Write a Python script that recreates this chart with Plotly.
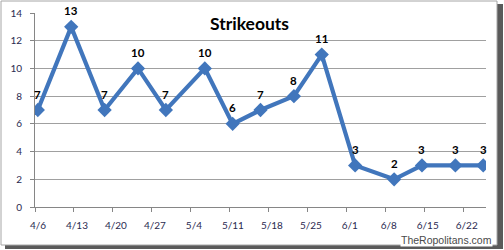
import plotly.graph_objects as go
import pandas as pd

# ---- data ----
game_dates = ["2008-04-06", "2008-04-12", "2008-04-18", "2008-04-24", "2008-04-29",
              "2008-05-06", "2008-05-11", "2008-05-16", "2008-05-22", "2008-05-27",
              "2008-06-02", "2008-06-09", "2008-06-14", "2008-06-20", "2008-06-25"]
strikeouts = [7, 13, 7, 10, 7, 10, 6, 7, 8, 11, 3, 2, 3, 3, 3]
axis_start = "2008-04-06"
axis_end = "2008-06-26"
title_text = "Strikeouts"
watermark = "TheRopolitans.com"

W, H = 504, 250
L, R, T, B = 35, 18, 13, 43
pw, ph = W - L - R, H - T - B

# Excel date axis: points sit in the middle of their day
xs = pd.to_datetime(game_dates) + pd.Timedelta(hours=12)

LINE = "#4176BC"
FONT = "Lato"

fig = go.Figure()
fig.add_trace(go.Scatter(
    x=xs, y=strikeouts, mode="lines+markers",
    line=dict(color=LINE, width=4.2),
    marker=dict(symbol="diamond", size=11, color=LINE),
    hoverinfo="skip", showlegend=False,
))

annotations = []
for x, v in zip(xs, strikeouts):
    annotations.append(dict(x=x, y=v, xref="x", yref="y", text=f"<b>{v}</b>",
                            showarrow=False, yshift=16,
                            font=dict(family=FONT, size=11.5, color="#000000")))

annotations.append(dict(x=0.475, y=1, xref="paper", yref="paper", xanchor="center",
                        yanchor="middle", yshift=-10, text=f"<b>{title_text}</b>",
                        showarrow=False, font=dict(family=FONT, size=17.5, color="#000000")))


def px_x(p):
    return (p - L) / pw


def px_y(p):
    return (H - B - p) / ph


annotations.append(dict(x=px_x(493), y=px_y(247), xref="paper", yref="paper",
                        xanchor="right", yanchor="bottom", text=watermark,
                        showarrow=False, bgcolor="#ffffff", borderpad=0,
                        font=dict(family="Liberation Sans", size=10.5, color="#4a4a4a")))

shapes = [
    # drop shadow
    dict(type="rect", xref="paper", yref="paper", layer="below",
         x0=px_x(5), x1=px_x(503), y0=px_y(249), y1=px_y(4),
         fillcolor="#5a5a5a", line=dict(width=0)),
    # chart border
    dict(type="rect", xref="paper", yref="paper", layer="below",
         x0=px_x(1), x1=px_x(497), y0=px_y(245), y1=px_y(1),
         fillcolor="#ffffff", line=dict(color="#a6a6a6", width=1)),
]

fig.update_layout(
    template="none",
    width=W, height=H,
    margin=dict(l=L, r=R, t=T, b=B, pad=0, autoexpand=False),
    paper_bgcolor="#ffffff", plot_bgcolor="rgba(0,0,0,0)",
    annotations=annotations, shapes=shapes,
    font=dict(family=FONT, size=10, color="#2a2a50"),
)
fig.update_xaxes(
    type="date", range=[axis_start, axis_end], automargin=False,
    tick0=axis_start, dtick=7 * 86400000, tickformat="%-m/%-d",
    ticks="outside", ticklen=4, tickcolor="#868686", ticklabelshift=3,
    ticklabelstandoff=5,
    showgrid=False, showline=True, linecolor="#868686", linewidth=1,
    zeroline=False, tickfont=dict(size=10),
)
fig.update_yaxes(
    range=[0, 14], dtick=2, tick0=0, automargin=False,
    ticks="outside", ticklen=4, tickcolor="#868686", ticklabelstandoff=6,
    showgrid=True, gridcolor="#a0a0a0", gridwidth=1,
    showline=True, linecolor="#868686", linewidth=1,
    zeroline=False, tickfont=dict(size=10),
)

fig.write_html("out.html")
